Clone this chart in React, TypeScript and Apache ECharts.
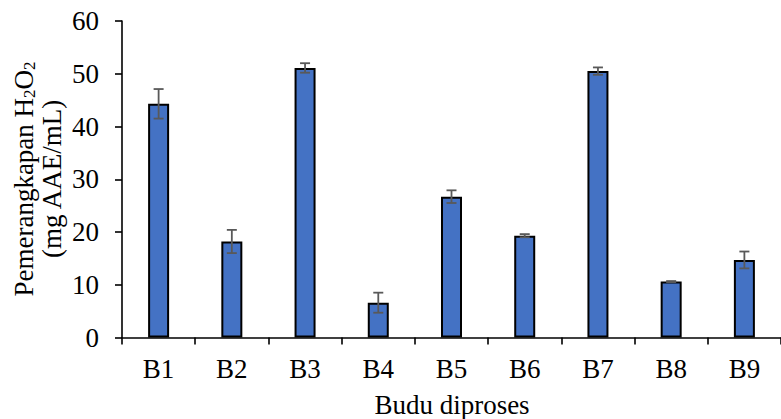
import React, { useEffect, useRef } from "react";
import * as echarts from "echarts";

const categories = ["B1", "B2", "B3", "B4", "B5", "B6", "B7", "B8", "B9"];
const means = [44.3, 18.2, 51.1, 6.6, 26.7, 19.3, 50.5, 10.6, 14.7];
const errors = [2.8, 2.2, 0.9, 1.9, 1.2, 0.3, 0.7, 0.1, 1.6];
const yTicks = { min: 0, max: 60, interval: 10 };
const xTitle = "Budu diproses";
const yTitleLine1 = "Pemerangkapan H{s|2}O{s|2}";
const yTitleLine2 = "(mg AAE/mL)";

const FONT = "'Liberation Serif', 'Times New Roman', serif";

export default function App() {
  const ref = useRef<HTMLDivElement>(null);
  useEffect(() => {
    if (!ref.current) return;
    const chart = echarts.init(ref.current, undefined, { renderer: "svg" });
    const errData = means.map((m, i) => [i, m - errors[i], m + errors[i]]);
    chart.setOption({
      animation: false,
      backgroundColor: "#ffffff",
      grid: { left: 122, top: 21, width: 661, bottom: 81.5, containLabel: false },
      xAxis: {
        type: "category",
        data: categories,
        boundaryGap: true,
        axisLine: { show: true, lineStyle: { color: "#000", width: 1.6 } },
        axisTick: { show: true, length: 7, alignWithLabel: false, lineStyle: { color: "#000", width: 1.6 } },
        axisLabel: { color: "#000", fontFamily: FONT, fontSize: 27, margin: 18 },
        splitLine: { show: false },
      },
      yAxis: {
        type: "value",
        min: yTicks.min,
        max: yTicks.max,
        interval: yTicks.interval,
        axisLine: { show: true, lineStyle: { color: "#000", width: 1.6 } },
        axisTick: { show: true, length: 7, lineStyle: { color: "#000", width: 1.6 } },
        axisLabel: { color: "#000", fontFamily: FONT, fontSize: 27, margin: 23 },
        splitLine: { show: false },
      },
      series: [
        {
          type: "bar",
          data: means,
          barWidth: 21,
          itemStyle: { color: "#4472C4", borderColor: "#000", borderWidth: 2 },
        },
        {
          type: "custom",
          data: errData,
          encode: { x: 0, y: [1, 2] },
          z: 10,
          renderItem: (params: any, api: any) => {
            const idx = api.value(0);
            const lo = api.coord([idx, api.value(1)]);
            const hi = api.coord([idx, api.value(2)]);
            const half = 5;
            const style = { stroke: "#595959", lineWidth: 1.8 };
            return {
              type: "group",
              children: [
                { type: "line", shape: { x1: lo[0], y1: lo[1], x2: hi[0], y2: hi[1] }, style },
                { type: "line", shape: { x1: hi[0] - half, y1: hi[1], x2: hi[0] + half, y2: hi[1] }, style },
                { type: "line", shape: { x1: lo[0] - half, y1: lo[1], x2: lo[0] + half, y2: lo[1] }, style },
              ],
            };
          },
        },
      ],
      graphic: [
        {
          type: "text",
          x: 452,
          y: 405,
          style: { text: xTitle, font: `27px ${FONT}`, fill: "#000", textAlign: "center", textVerticalAlign: "middle" },
        },
        {
          type: "text",
          x: 24,
          y: 179,
          rotation: Math.PI / 2,
          style: {
            text: yTitleLine1,
            font: `27px ${FONT}`,
            fill: "#000",
            textAlign: "center",
            textVerticalAlign: "middle",
            rich: { s: { fontSize: 17, fontFamily: FONT, fill: "#000", verticalAlign: "bottom", padding: [0, 0, 0, 0] } },
          },
        },
        {
          type: "text",
          x: 52,
          y: 179,
          rotation: Math.PI / 2,
          style: { text: yTitleLine2, font: `27px ${FONT}`, fill: "#000", textAlign: "center", textVerticalAlign: "middle" },
        },
      ],
    });
    return () => chart.dispose();
  }, []);
  return (
    <div
      ref={ref}
      style={{ position: "absolute", left: 0, top: 0, width: 781, height: 419, background: "#fff" }}
    />
  );
}
